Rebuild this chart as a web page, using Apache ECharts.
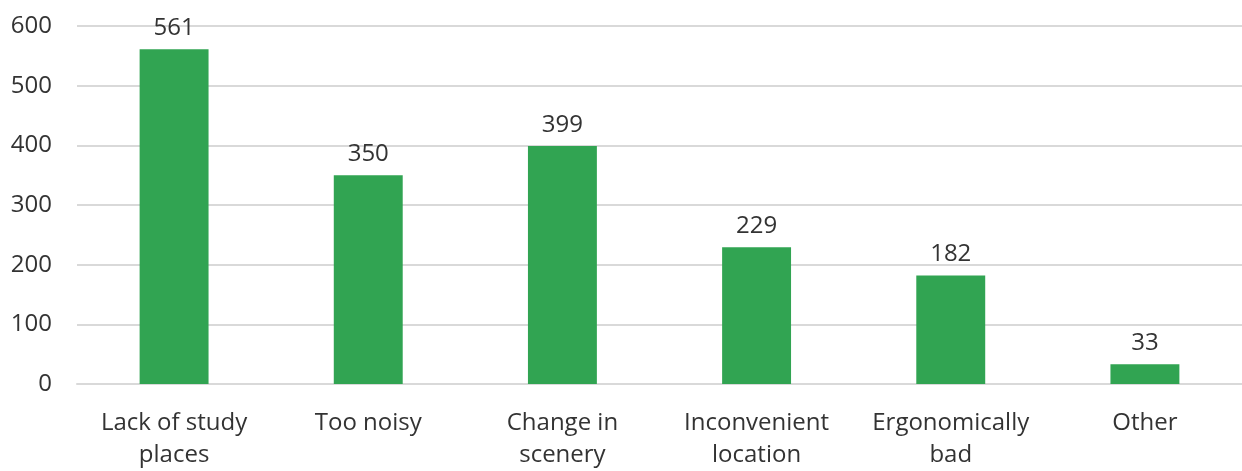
<!DOCTYPE html>
<html>
<head>
<meta charset="utf-8">
<script src="https://cdn.jsdelivr.net/npm/echarts@6/dist/echarts.min.js"></script>
<style>
  html, body { margin: 0; padding: 0; background: #fff; overflow: hidden; }
  #chart { width: 100vw; height: 100vh; }
</style>
</head>
<body>
<div id="chart"></div>
<script>
// Reasons given for not using the library as a study place
const categories = ['Lack of study\nplaces', 'Too noisy', 'Change in\nscenery', 'Inconvenient\nlocation', 'Ergonomically\nbad', 'Other'];
const responses = [561, 350, 399, 229, 182, 33];
const yTicks = { min: 0, max: 600, interval: 100 };

const chart = echarts.init(document.getElementById('chart'));
const font = '"Open Sans", "Noto Sans", sans-serif';
chart.setOption({
  animation: false,
  textStyle: { fontFamily: font },
  grid: { left: 77, right: -2, top: 26, bottom: 85, containLabel: false },
  xAxis: {
    type: 'category',
    data: categories,
    axisLine: { show: true, lineStyle: { color: '#d9d9d9', width: 2 } },
    axisTick: { show: false },
    axisLabel: { color: '#333', fontSize: 24, fontFamily: font, margin: 23, lineHeight: 32, interval: 0 }
  },
  yAxis: {
    type: 'value',
    min: yTicks.min, max: yTicks.max, interval: yTicks.interval,
    axisLine: { show: false },
    axisTick: { show: false },
    axisLabel: { color: '#333', fontSize: 24, fontFamily: font, margin: 25 },
    splitLine: { lineStyle: { color: '#d9d9d9', width: 2 } }
  },
  series: [{
    type: 'bar',
    data: responses,
    barWidth: '35.5%',
    itemStyle: { color: '#31a452' },
    label: { show: true, position: 'top', distance: 9, color: '#333', fontSize: 24, fontFamily: font }
  }]
});
window.addEventListener('resize', () => chart.resize());
</script>
</body>
</html>
